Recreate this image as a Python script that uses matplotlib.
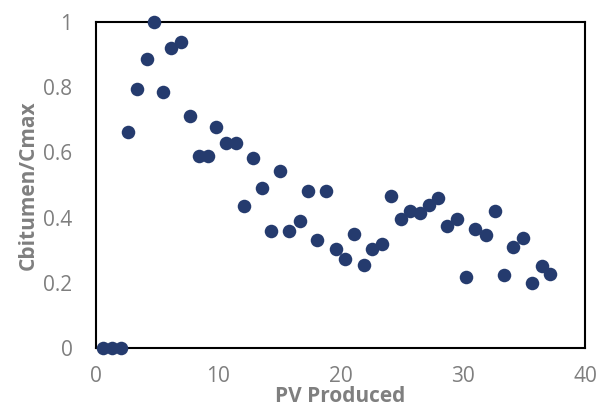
import matplotlib.pyplot as plt
from matplotlib.ticker import FuncFormatter

plt.rcParams["font.family"] = ["Open Sans", "DejaVu Sans"]

# PV produced vs normalised bitumen concentration
pv_produced = [0.58, 1.33, 2.05, 2.65, 3.39, 4.15, 4.78, 5.52, 6.12, 6.97,
               7.70, 8.39, 9.15, 9.84, 10.63, 11.45, 12.13, 12.84, 13.6, 14.35,
               15.05, 15.8, 16.65, 17.35, 18.09, 18.82, 19.6, 20.35, 21.1, 21.9,
               22.6, 23.4, 24.1, 24.97, 25.7, 26.5, 27.2, 28.0, 28.7, 29.5,
               30.3, 31.0, 31.9, 32.6, 33.4, 34.15, 34.9, 35.7, 36.45, 37.1]
c_ratio = [0.0, 0.0, 0.0, 0.664, 0.795, 0.886, 1.0, 0.786, 0.922, 0.94,
           0.711, 0.589, 0.589, 0.678, 0.63, 0.628, 0.437, 0.583, 0.49, 0.36,
           0.542, 0.36, 0.39, 0.483, 0.333, 0.483, 0.303, 0.272, 0.35, 0.255,
           0.304, 0.32, 0.466, 0.397, 0.42, 0.413, 0.439, 0.459, 0.373, 0.397,
           0.217, 0.364, 0.346, 0.42, 0.224, 0.311, 0.337, 0.2, 0.252, 0.226]

x_ticks = [0, 10, 20, 30, 40]
y_ticks = [0, 0.2, 0.4, 0.6, 0.8, 1]

fig = plt.figure(figsize=(6, 4.09), dpi=100)
ax = fig.add_axes([0.16, 0.149, 0.815, 0.797])

ax.scatter(pv_produced, c_ratio, s=95, color="#253B6E", zorder=3, clip_on=False,
           linewidths=0)

ax.set_xlim(0, 40)
ax.set_ylim(0, 1)
ax.set_xticks(x_ticks)
ax.set_yticks(y_ticks)
ax.yaxis.set_major_formatter(FuncFormatter(lambda v, p: f"{v:g}"))
ax.tick_params(length=0, labelsize=15, labelcolor="#7F7F7F")
ax.tick_params(axis="y", pad=17)
ax.tick_params(axis="x", pad=13)

for spine in ax.spines.values():
    spine.set_linewidth(1.5)
    spine.set_color("black")

ax.set_xlabel("PV Produced", fontsize=15, fontweight="bold", color="#7F7F7F",
              labelpad=-1)
ax.set_ylabel("Cbitumen/Cmax", fontsize=15, fontweight="bold", color="#7F7F7F",
              labelpad=3)

plt.savefig("out.png", dpi=100)
